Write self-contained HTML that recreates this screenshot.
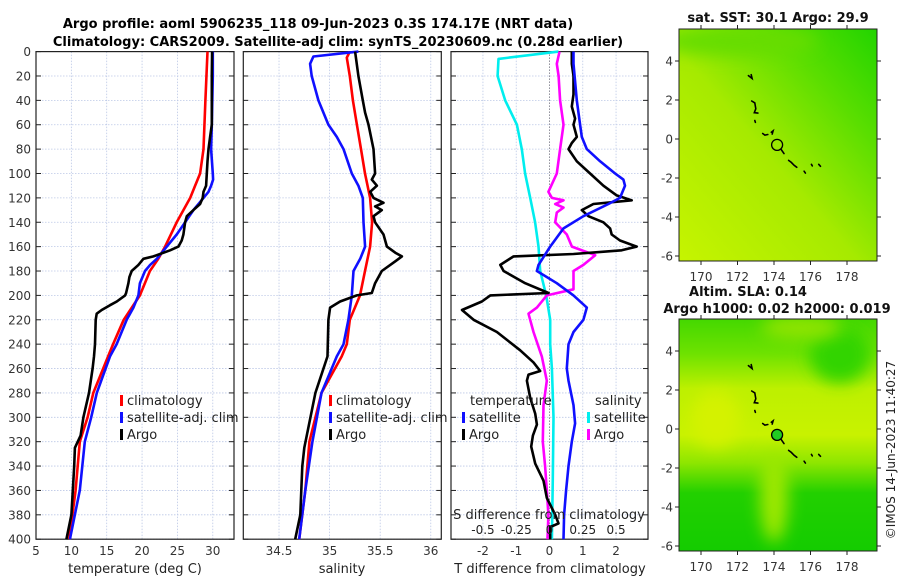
<!DOCTYPE html>
<html><head><meta charset="utf-8"><style>
body{margin:0;background:#fff;}
svg{display:block;font-family:"DejaVu Sans","Liberation Sans",sans-serif;}
</style></head><body>
<svg id="fig" width="900" height="580" viewBox="0 0 900 580" xmlns="http://www.w3.org/2000/svg">
<defs>
<linearGradient id="g1" x1="0" y1="1" x2="1" y2="0">
<stop offset="0" stop-color="#c6f400"/><stop offset="0.45" stop-color="#a6ea00"/><stop offset="0.75" stop-color="#5ade00"/><stop offset="1" stop-color="#22d400"/></linearGradient>
<linearGradient id="g2" x1="0" y1="0" x2="0" y2="1">
<stop offset="0" stop-color="#44d800"/><stop offset="0.15" stop-color="#6ee200"/><stop offset="0.3" stop-color="#bdf000"/><stop offset="0.5" stop-color="#c8f200"/><stop offset="0.62" stop-color="#8ee600"/><stop offset="0.75" stop-color="#22d000"/><stop offset="1" stop-color="#14cc00"/></linearGradient>
<filter id="bl" x="-100%" y="-100%" width="300%" height="300%"><feGaussianBlur stdDeviation="8"/></filter>
<clipPath id="c1"><rect x="679" y="29" width="198" height="232"/></clipPath>
<clipPath id="c2"><rect x="679" y="319" width="198" height="232"/></clipPath>
</defs>
<text x="318" y="28" text-anchor="middle" font-size="13" font-weight="bold">Argo profile: aoml 5906235_118 09-Jun-2023 0.3S 174.17E (NRT data)</text>
<text x="338" y="46" text-anchor="middle" font-size="13" font-weight="bold">Climatology: CARS2009. Satellite-adj clim: synTS_20230609.nc (0.28d earlier)</text>
<g id="plots"></g>
<g id="maps"></g>
<text transform="translate(895,450) rotate(-90)" text-anchor="middle" font-size="12" fill="#222">©IMOS 14-Jun-2023 11:40:27</text>
</svg>
<script>
// ---- data ----
const tRedDepth=[0,40,80,90,100,110,120,140,160,170,180,200,220,240,250,260,280,300,320,360,400];
const tRedVal=[29.25,28.96,28.68,28.44,28.2,27.5,26.8,24.9,23.25,22.3,21.1,19.7,17.4,15.9,15.2,14.5,13.1,12.3,11.2,10.6,9.7];
const tBlueDepth=[0,20,60,80,100,105,110,115,120,130,140,150,160,170,175,180,190,200,210,220,240,250,280,300,320,360,400];
const tBlueVal=[30.0,30.0,29.86,29.76,30.0,30.05,29.76,29.4,28.68,27.26,26.08,24.9,23.5,22.08,21.13,20.42,19.7,19.48,18.77,17.83,16.4,15.47,13.6,12.8,11.9,11.2,9.8];
const tArgoDepth=[0,20,60,70,80,90,100,110,115,120,125,130,135,140,150,155,160,163,168,170,175,180,185,190,198,200,205,208,212,215,220,240,250,260,280,300,315,325,340,360,380,400];
const tArgoVal=[29.9,29.86,29.86,29.62,29.39,29.25,29.15,29.06,28.68,28.58,28.2,27.26,26.32,26.08,25.85,25.6,25.14,23.96,21.6,20.19,19.48,18.54,18.21,18.07,17.74,17.6,16.42,15.47,14.29,13.58,13.44,13.35,13.2,13.0,12.5,11.7,11.3,10.5,10.4,10.2,10.0,9.3];
const sRedDepth=[0,5,20,40,60,80,100,120,140,160,180,200,210,220,240,250,280,320,360,400];
const sRedVal=[35.2,35.17,35.2,35.23,35.27,35.31,35.35,35.4,35.42,35.4,35.35,35.3,35.25,35.2,35.17,35.12,34.92,34.8,34.76,34.7];
const sBlueDepth=[0,4,10,20,40,60,70,80,100,110,120,140,160,170,180,200,220,240,250,280,320,360,400];
const sBlueVal=[35.285,34.84,34.807,34.823,34.889,34.988,35.071,35.137,35.219,35.285,35.328,35.335,35.351,35.302,35.236,35.219,35.186,35.137,35.071,34.92,34.83,34.76,34.7];
const sArgoDepth=[0,20,40,50,60,80,100,105,110,115,120,124,127,130,135,140,150,160,165,168,172,180,190,198,200,205,210,220,250,280,325,340,380,400];
const sArgoVal=[35.252,35.285,35.328,35.351,35.384,35.434,35.45,35.417,35.467,35.401,35.434,35.533,35.45,35.516,35.434,35.45,35.533,35.566,35.649,35.715,35.649,35.516,35.45,35.417,35.269,35.104,35.005,34.988,34.979,34.86,34.75,34.73,34.71,34.66];
const dtSatDepth=[0,10,40,60,70,80,90,100,105,110,120,125,135,145,160,175,180,190,200,210,220,230,240,260,270,290,305,320,340,360,380,400];
const dtSatVal=[0.72,0.72,0.82,0.92,0.97,1.12,1.52,1.97,2.22,2.27,2.12,1.77,1.02,0.42,0.02,-0.33,-0.38,0.22,0.72,1.12,1.02,0.72,0.57,0.52,0.57,0.72,0.77,0.67,0.57,0.5,0.44,0.42];
const dtArgoDepth=[0,10,20,35,45,55,60,70,75,80,90,100,110,118,122,125,130,135,140,145,150,155,160,163,166,168,175,180,190,198,200,205,212,220,230,245,255,262,265,270,284,297,306,315,324,338,352,366,380,387,390,400];
const dtArgoVal=[0.67,0.67,0.72,0.72,0.67,0.77,0.72,0.82,0.67,0.57,0.82,1.22,1.62,2.02,2.47,1.32,0.97,1.17,1.62,1.82,1.87,2.12,2.62,2.17,0.72,-1.08,-1.48,-1.38,-0.73,-0.03,-1.78,-2.03,-2.63,-2.28,-1.58,-0.88,-0.48,-0.28,-0.63,-0.68,-0.58,-0.43,-0.38,-0.5,-0.55,-0.43,-0.18,-0.08,0.17,0.27,0.02,0.02];
const dsSatDepth=[0,6,20,40,60,80,100,120,140,160,180,200,220,240,260,300,350,400];
const dsSatVal=[0.068,-0.383,-0.39,-0.333,-0.245,-0.208,-0.183,-0.145,-0.108,-0.083,-0.07,-0.025,0.005,0.005,0.018,0.03,0.025,0.018];
const dsArgoDepth=[0,10,20,40,60,80,100,115,120,122,125,128,132,140,150,160,167,175,180,195,200,210,215,230,250,270,290,320,340,360,380,400];
const dsArgoVal=[0.075,0.055,0.068,0.08,0.105,0.08,0.055,-0.008,0.018,0.105,0.043,0.105,0.055,0.043,0.13,0.168,0.343,0.255,0.18,0.18,-0.02,-0.095,-0.158,-0.12,-0.058,-0.02,-0.045,-0.05,-0.033,-0.02,-0.008,-0.015];
const depthTicks=[0,20,40,60,80,100,120,140,160,180,200,220,240,260,280,300,320,340,360,380,400];
const tempTicks=[5,10,15,20,25,30];
const salTicks=[34.5,35,35.5,36];
const dTTicks=[-2,-1,0,1,2];
const dSTicks=[-0.5,-0.25,0,0.25,0.5];
const dSTickLabels=["-0.5","-0.25","0","0.25","0.5"];
const lonTicks=[170,172,174,176,178];
const latTicks=[4,2,0,-2,-4,-6];
const islandLon=[[172.6,172.8,172.75],[172.78,172.95,173.0,172.92,173.12],[173.2],[172.95,172.98],[173.38,173.5,173.66],[173.85,173.95,173.9],[174.4,174.55],[174.8,174.95,175.1,175.25],[175.65,175.72],[176.05,176.1],[176.45,176.55],[176.9],[176.3],[177.5],[169.6]];
const islandLat=[[3.25,3.1,3.3],[1.95,1.85,1.55,1.35,1.33],[1.98],[0.95,0.85],[0.28,0.2,0.23],[0.35,0.42,0.25],[-0.55,-0.75],[-1.1,-1.2,-1.35,-1.45],[-1.65,-1.75],[-1.3,-1.38],[-1.3,-1.4],[-2.6],[-5.6],[-6.15],[-0.8]];
const floatLon=174.17, floatLat=-0.3;

// ---- helpers ----
const NS="http://www.w3.org/2000/svg";
function mk(tag,attrs,parent){const e=document.createElementNS(NS,tag);for(const k in attrs)e.setAttribute(k,attrs[k]);parent.appendChild(e);return e;}
const plots=document.getElementById('plots');
const Y0=51.6, YS=1.219;
const yD=d=>Y0+YS*d;
const panels=[
 {x0:36,x1:234,v0:5,v1:33,ticks:tempTicks,name:'temperature-panel'},
 {x0:243.3,x1:441.3,v0:34.147,v1:36.104,ticks:salTicks,name:'salinity-panel'},
 {x0:451,x1:648,v0:-2.96,v1:2.96,ticks:dTTicks,name:'difference-panel'}];
function xf(p){return v=>p.x0+(v-p.v0)/(p.v1-p.v0)*(p.x1-p.x0);}
panels.forEach((p,pi)=>{
 const g=mk('g',{},plots);
 
 
 const X=xf(p);
 depthTicks.forEach(d=>{
  const l=mk('line',{x1:p.x0,x2:p.x1,y1:yD(d),y2:yD(d),stroke:'#bcc8e6','stroke-width':0.8,'stroke-dasharray':'1.5,1.5'},g);
  
  mk('line',{x1:p.x0,x2:p.x0+5,y1:yD(d),y2:yD(d),stroke:'#222'},g);
  mk('line',{x1:p.x1-5,x2:p.x1,y1:yD(d),y2:yD(d),stroke:'#222'},g);
  if(pi===0){const t=mk('text',{x:31,y:yD(d)+4.5,'text-anchor':'end','font-size':12,fill:'#333'},g);t.textContent=d;
   }
 });
 p.ticks.forEach(v=>{
  const x=X(v);
  if(!(pi===2&&v===0)) mk('line',{x1:x,x2:x,y1:yD(0),y2:yD(400),stroke:'#bcc8e6','stroke-width':0.8,'stroke-dasharray':'1.5,1.5'},g);
  const t=mk('text',{x:x,y:555,'text-anchor':'middle','font-size':12,fill:'#333'},g);t.textContent=v;
  
 });
 mk('rect',{x:p.x0,y:yD(0),width:p.x1-p.x0,height:yD(400)-yD(0),fill:'none',stroke:'#222','stroke-width':1.2},g);
});
const labs=[[135,'temperature (deg C)'],[342,'salinity'],[550,'T difference from climatology']];
labs.forEach(l=>{const t=mk('text',{x:l[0],y:573,'text-anchor':'middle','font-size':13,fill:'#222'},plots);t.textContent=l[1];
 });
const X3=xf(panels[2]);
mk('line',{x1:X3(0),x2:X3(0),y1:yD(0),y2:yD(400),stroke:'#556','stroke-width':1,'stroke-dasharray':'1,2'},plots);
function series(pi,dep,val,color,name,scale){
 const X=xf(panels[pi]);const sc=scale||1;
 const pts=dep.map((d,i)=>X(val[i]*sc).toFixed(1)+','+yD(d).toFixed(1)).join(' ');
 const pl=mk('polyline',{points:pts,fill:'none',stroke:color,'stroke-width':2.6,'stroke-linejoin':'round'},plots);
 
 
}
series(0,tRedDepth,tRedVal,'#ff0000','temp-climatology-line');
series(0,tBlueDepth,tBlueVal,'#1010ff','temp-satellite-line');
series(0,tArgoDepth,tArgoVal,'#000','temp-argo-line');
series(1,sRedDepth,sRedVal,'#ff0000','sal-climatology-line');
series(1,sBlueDepth,sBlueVal,'#1010ff','sal-satellite-line');
series(1,sArgoDepth,sArgoVal,'#000','sal-argo-line');
series(2,dsSatDepth,dsSatVal,'#00eeee','sdiff-satellite-line',4);
series(2,dsArgoDepth,dsArgoVal,'#ff00ff','sdiff-argo-line',4);
series(2,dtArgoDepth,dtArgoVal,'#000','tdiff-argo-line');
series(2,dtSatDepth,dtSatVal,'#1010ff','tdiff-satellite-line');
const st=mk('text',{x:549,y:519,'text-anchor':'middle','font-size':13,fill:'#222'},plots);st.textContent='S difference from climatology';

dSTicks.forEach((v,i)=>{const t=mk('text',{x:X3(v*4),y:534,'text-anchor':'middle','font-size':12,fill:'#222'},plots);t.textContent=dSTickLabels[i];
 });
function leg(x,y,color,label,name){
 const g=mk('g',{},plots);
 mk('rect',{x:x,y:y-10,width:3,height:11,fill:color},g);
 const t=mk('text',{x:x+7,y:y,'font-size':13,fill:'#222'},g);t.textContent=label;}
leg(120,405,'#ff0000','climatology','legend-climatology');
leg(120,422,'#1010ff','satellite-adj. clim','legend-satellite');
leg(120,439,'#000','Argo','legend-argo');
leg(329,405,'#ff0000','climatology','legend-climatology-2');
leg(329,422,'#1010ff','satellite-adj. clim','legend-satellite-2');
leg(329,439,'#000','Argo','legend-argo-2');
let t=mk('text',{x:470,y:405,'font-size':13,fill:'#222'},plots);t.textContent='temperature';

t=mk('text',{x:595,y:405,'font-size':13,fill:'#222'},plots);t.textContent='salinity';

leg(462,422,'#1010ff','satellite','legend-t-satellite');
leg(462,439,'#000','Argo','legend-t-argo');
leg(587,422,'#00eeee','satellite','legend-s-satellite');
leg(587,439,'#ff00ff','Argo','legend-s-argo');

// ---- maps ----
const maps=document.getElementById('maps');
function drawMap(top,clip,fillId,name,filled){
 const g=mk('g',{},maps);
 const LX=lon=>701+(lon-170)*18.25;
 const LY=lat=>top+32-(lat-4)*19.5;
 const cg=mk('g',{'clip-path':'url(#'+clip+')'},g);
 mk('rect',{x:679,y:top,width:198,height:232,fill:'url(#'+fillId+')'},cg);
 if(filled){
  mk('ellipse',{cx:LX(174),cy:LY(-3.5),rx:14,ry:45,fill:'#9ee800',filter:'url(#bl)'},cg);
  mk('ellipse',{cx:LX(170.8),cy:LY(0.5),rx:25,ry:28,fill:'#d4f200',filter:'url(#bl)'},cg);
  mk('ellipse',{cx:LX(177.6),cy:LY(3.8),rx:30,ry:28,fill:'#30d400',filter:'url(#bl)'},cg);
  mk('ellipse',{cx:LX(175.5),cy:LY(5.2),rx:40,ry:12,fill:'#90e400',filter:'url(#bl)'},cg);
 } else {
  mk('ellipse',{cx:LX(172),cy:LY(5),rx:80,ry:14,fill:'#66dd00',filter:'url(#bl)'},cg);
 }
 islandLon.forEach((ln,i)=>{
  const pts=ln.map((lo,j)=>LX(lo).toFixed(1)+','+LY(islandLat[i][j]).toFixed(1)).join(' ');
  const p=mk('polyline',{points:pts,fill:'none',stroke:'#000','stroke-width':1.6,'stroke-linecap':'round'},cg);
  
 });
 const c=mk('circle',{cx:LX(floatLon),cy:LY(floatLat),r:5.5,fill:filled?'#22cc22':'none',stroke:'#000','stroke-width':1.3},cg);
 
 mk('rect',{x:679,y:top,width:198,height:232,fill:'none',stroke:'#222','stroke-width':1},g);
 lonTicks.forEach(lo=>{
  mk('line',{x1:LX(lo),x2:LX(lo),y1:top+232,y2:top+236,stroke:'#222'},g);
  mk('line',{x1:LX(lo),x2:LX(lo),y1:top-4,y2:top,stroke:'#222'},g);
  const tt=mk('text',{x:LX(lo),y:top+252,'text-anchor':'middle','font-size':12,fill:'#333'},g);tt.textContent=lo;
  });
 latTicks.forEach(la=>{
  mk('line',{x1:675,x2:679,y1:LY(la),y2:LY(la),stroke:'#222'},g);
  mk('line',{x1:877,x2:881,y1:LY(la),y2:LY(la),stroke:'#222'},g);
  const tt=mk('text',{x:673,y:LY(la)+4.5,'text-anchor':'end','font-size':12,fill:'#333'},g);tt.textContent=la;
  });
}
drawMap(29,'c1','g1','sst-map',false);
drawMap(319,'c2','g2','sla-map',true);
const mt=[[778,22,'sat. SST: 30.1 Argo: 29.9','sst-map-title'],[748,296,'Altim. SLA: 0.14','sla-map-title'],[777,313,'Argo h1000: 0.02 h2000: 0.019','sla-map-subtitle']];
mt.forEach(m=>{const tt=mk('text',{x:m[0],y:m[1],'text-anchor':'middle','font-size':13,'font-weight':'bold',fill:'#111'},maps);tt.textContent=m[2];
 });
</script>
</body></html>
